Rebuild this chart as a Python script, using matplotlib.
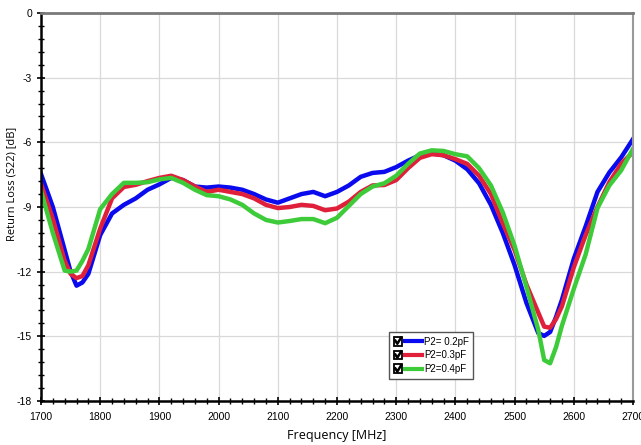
import matplotlib
matplotlib.use("Agg")
import matplotlib.pyplot as plt
from matplotlib.lines import Line2D
from matplotlib.patches import Rectangle
from matplotlib.legend_handler import HandlerBase
from matplotlib.ticker import MultipleLocator

freq = [1700, 1720, 1740, 1750, 1760, 1770, 1780, 1800, 1820, 1840, 1860, 1880,
        1900, 1920, 1940, 1960, 1980, 2000, 2020, 2040, 2060, 2080, 2100, 2120,
        2140, 2160, 2180, 2200, 2220, 2240, 2260, 2280, 2300, 2320, 2340, 2360,
        2380, 2400, 2420, 2440, 2460, 2480, 2500, 2520, 2540, 2550, 2560, 2570,
        2580, 2600, 2620, 2640, 2660, 2680, 2700]

s22_02pf = [-7.47, -9.0, -11.0, -12.0, -12.65, -12.5, -12.1, -10.3, -9.3, -8.9, -8.6, -8.2,
            -7.95, -7.65, -7.75, -8.05, -8.1, -8.05, -8.1, -8.2, -8.4, -8.65, -8.8, -8.6,
            -8.4, -8.3, -8.5, -8.3, -8.0, -7.6, -7.42, -7.37, -7.15, -6.85, -6.6, -6.5,
            -6.6, -6.85, -7.25, -7.9, -8.9, -10.2, -11.7, -13.45, -14.85, -14.98, -14.8, -14.1,
            -13.3, -11.4, -9.9, -8.3, -7.4, -6.7, -5.85]

s22_03pf = [-7.93, -9.55, -11.5, -12.1, -12.3, -12.2, -11.7, -10.0, -8.6, -8.07, -7.97, -7.8,
            -7.65, -7.55, -7.75, -8.05, -8.3, -8.2, -8.3, -8.4, -8.6, -8.9, -9.05, -9.0,
            -8.9, -8.95, -9.15, -9.07, -8.75, -8.3, -8.0, -7.98, -7.75, -7.2, -6.72, -6.55,
            -6.6, -6.78, -7.0, -7.55, -8.4, -9.75, -11.0, -12.6, -13.9, -14.55, -14.6, -14.2,
            -13.6, -11.8, -10.3, -9.0, -7.85, -7.0, -6.45]

s22_04pf = [-8.25, -10.2, -11.95, -12.0, -11.95, -11.5, -10.95, -9.1, -8.4, -7.88, -7.88, -7.85,
            -7.72, -7.65, -7.88, -8.2, -8.45, -8.5, -8.65, -8.9, -9.3, -9.6, -9.72, -9.65,
            -9.56, -9.56, -9.75, -9.5, -8.95, -8.4, -8.05, -7.9, -7.55, -7.0, -6.52, -6.37,
            -6.4, -6.55, -6.65, -7.2, -8.0, -9.25, -10.8, -12.7, -14.7, -16.1, -16.25, -15.5,
            -14.5, -12.8, -11.2, -9.05, -8.0, -7.3, -6.3]

labels = ["P2= 0.2pF", "P2=0.3pF", "P2=0.4pF"]
colors = ["#0a0aee", "#e0203a", "#3ecb3a"]


class CheckboxLine(HandlerBase):
    # checked box followed by a short coloured line, like the original tool's legend
    def create_artists(self, legend, orig_handle, xdescent, ydescent,
                       width, height, fontsize, trans):
        s = height * 1.3
        x0 = -xdescent
        y0 = -ydescent + (height - s) / 2
        box = Rectangle((x0, y0), s, s, facecolor="white", edgecolor="black",
                        lw=1.3, transform=trans)
        tick = Line2D([x0 + 0.2 * s, x0 + 0.42 * s, x0 + 0.85 * s],
                      [y0 + 0.55 * s, y0 + 0.2 * s, y0 + 0.9 * s],
                      color="black", lw=1.8, transform=trans)
        ln = Line2D([x0 + s + 2, x0 + width], [y0 + s / 2] * 2,
                    color=orig_handle.get_color(), lw=3, transform=trans)
        return [box, tick, ln]


plt.rcParams["font.family"] = ["Liberation Sans Narrow", "Liberation Sans", "DejaVu Sans"]
plt.rcParams["axes.unicode_minus"] = False

fig = plt.figure(figsize=(6.41, 4.45), dpi=100)
ax = fig.add_axes([41 / 641, 44 / 445, 592 / 641, 388 / 445])

lines = []
for vals, col in zip([s22_02pf, s22_03pf, s22_04pf], colors):
    ln, = ax.plot(freq, vals, color=col, lw=3.2, solid_joinstyle="round")
    lines.append(ln)

ax.set_xlim(1700, 2700)
ax.set_ylim(-18, 0)
ax.xaxis.set_major_locator(MultipleLocator(100))
ax.xaxis.set_minor_locator(MultipleLocator(20))
ax.yaxis.set_major_locator(MultipleLocator(3))
ax.yaxis.set_minor_locator(MultipleLocator(0.6))
ax.grid(True, which="major", color="#d9d9d9", lw=0.9)
ax.set_axisbelow(True)

ax.tick_params(which="major", direction="inout", length=6, width=1.2, labelsize=7.5, color="black")
ax.tick_params(which="minor", direction="inout", length=4, width=1, color="black")
ax.tick_params(axis="x", pad=5)

ax.spines["left"].set_linewidth(1.8)
ax.spines["bottom"].set_linewidth(1.8)
ax.spines["top"].set_color("#7a7a7a")
ax.spines["top"].set_linewidth(2.0)
ax.spines["right"].set_color("#9a9a9a")
ax.spines["right"].set_linewidth(1.5)

ax.set_xlabel("Frequency [MHz]", fontsize=9, family="Open Sans")
ax.set_ylabel("Return Loss (S22) [dB]", fontsize=8, family="Open Sans")
ax.xaxis.set_label_coords(0.5, -0.073)
ax.yaxis.set_label_coords(-0.04, 0.56)

leg = ax.legend(lines, labels, loc="lower left", bbox_to_anchor=(0.58, 0.045),
                handler_map={Line2D: CheckboxLine()},
                handlelength=2.9, handletextpad=0.25, labelspacing=0.4,
                fontsize=7, frameon=True, fancybox=False, borderpad=0.45,
                edgecolor="#555555", framealpha=1)
leg.get_frame().set_linewidth(1.0)

fig.savefig("out.png", dpi=100)
